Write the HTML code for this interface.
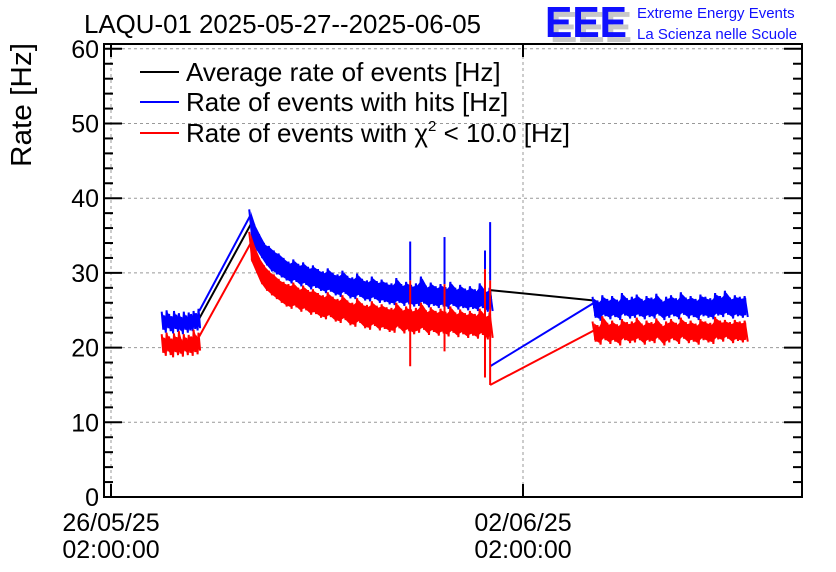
<!DOCTYPE html>
<html><head><meta charset="utf-8"><style>
body{margin:0;background:#fff}
svg{display:block;font-family:"Liberation Sans",sans-serif}
</style></head><body>
<svg id="chart" width="836" height="572" viewBox="0 0 836 572" xmlns="http://www.w3.org/2000/svg">
<text x="84" y="33" font-size="26" textLength="397" lengthAdjust="spacingAndGlyphs">LAQU-01 2025-05-27--2025-06-05</text>
<g>
<text x="550" y="42" font-size="44" fill="#c8c8c8" font-weight="bold" textLength="82" lengthAdjust="spacingAndGlyphs">EEE</text>
<text x="545" y="37" font-size="44" fill="#1010ff" font-weight="bold" textLength="82" lengthAdjust="spacingAndGlyphs">EEE</text>
<text x="637" y="18" font-size="15" fill="#1010ff">Extreme Energy Events</text>
<text x="637" y="39" font-size="15" fill="#1010ff">La Scienza nelle Scuole</text>
</g>
<text transform="translate(31,105) rotate(-90)" text-anchor="middle" font-size="29" textLength="124" lengthAdjust="spacingAndGlyphs">Rate [Hz]</text>
<g id="grid"></g>
<g id="series"></g>
<g id="axes"></g>
<g>
<g><line x1="140" y1="72" x2="179" y2="72" stroke="#000" stroke-width="2"/><text x="186" y="81" font-size="26">Average rate of events [Hz]</text></g>
<g><line x1="140" y1="102" x2="179" y2="102" stroke="#0000ff" stroke-width="2"/><text x="186" y="111" font-size="26">Rate of events with hits [Hz]</text></g>
<g><line x1="140" y1="133" x2="179" y2="133" stroke="#ff0000" stroke-width="2"/><text x="186" y="142" font-size="26">Rate of events with χ<tspan font-size="15" dy="-11">2</tspan><tspan dy="11"> &lt; 10.0 [Hz]</tspan></text></g>
</g>
</svg>
<script>
// hours since 26/05/25 02:00:00
const seg1Hours=[21,22,23,24,25,26,27,28,29,30,31,32,33,34,35,36];
const seg1BlueHi=[24.8,24.3,25.0,24.5,24.2,24.9,24.4,24.6,24.1,24.8,24.3,24.7,24.5,24.9,24.6,25.2];
const seg1BlueLo=[22.4,22.0,22.6,22.2,21.9,22.5,22.1,22.3,21.8,22.4,22.0,22.3,22.2,22.5,22.3,22.6];
const seg1RedHi=[21.8,21.3,22.0,21.5,21.2,21.9,21.4,22.2,21.1,21.8,21.3,21.7,21.5,22.4,21.6,22.0];
const seg1RedLo=[19.3,18.9,19.5,19.0,18.7,19.4,19.0,19.2,18.8,19.5,19.0,19.3,18.9,19.4,19.1,19.6];
const seg2Hours=[57,59,61,63,65,67,69,71,73,75,77,79,81,83,85,87,89,91,93,95,97,99,101,103,105,107,109,111,113,115,117,119,121,123,125,127,129,131,133,135,137,139,141,143,145,147,149,151,153,155];
const seg2BlueHi=[38.5,36.5,35.2,34.0,33.6,33.0,32.6,32.0,31.5,31.8,31.2,31.4,30.8,31.0,30.5,30.2,30.6,30.0,29.8,30.3,29.6,29.4,29.9,29.2,29.0,29.5,28.9,29.1,28.7,28.6,29.3,28.5,28.8,28.4,28.6,29.5,28.3,28.7,28.2,28.5,28.1,28.8,28.0,28.4,27.9,28.2,27.8,28.6,27.7,28.0];
const seg2BlueLo=[34.5,33.0,32.0,31.0,30.2,29.8,29.4,29.0,28.6,28.8,28.2,28.4,27.8,28.0,27.6,27.3,27.5,27.0,26.8,27.2,26.6,26.5,26.8,26.3,26.2,26.5,26.0,26.1,25.8,25.7,26.0,25.6,25.8,25.5,25.6,25.9,25.4,25.6,25.3,25.5,25.2,25.6,25.1,25.3,25.0,25.2,24.9,25.3,24.8,24.9];
const seg2RedHi=[35.5,33.5,32.0,31.0,30.3,29.8,29.2,28.8,28.5,28.7,28.0,28.3,27.7,27.8,27.3,27.0,27.4,26.8,26.5,27.0,26.3,26.0,26.6,25.9,25.7,26.2,25.6,25.8,25.4,25.3,26.0,25.2,25.5,25.1,25.3,26.0,25.0,25.4,24.9,25.2,24.8,25.5,24.7,25.1,24.6,24.9,24.5,25.2,24.4,24.7];
const seg2RedLo=[31.5,30.0,28.5,27.6,27.0,26.5,26.0,25.5,25.2,25.4,24.8,25.0,24.4,24.5,24.0,23.8,24.1,23.5,23.3,23.7,23.0,22.8,23.3,22.6,22.4,22.9,22.3,22.5,22.1,22.0,22.6,21.9,22.2,21.8,22.0,22.4,21.7,22.1,21.6,21.9,21.5,22.0,21.4,21.8,21.3,21.6,21.2,21.7,21.1,21.3];
const seg3Hours=[197,199,201,203,205,207,209,211,213,215,217,219,221,223,225,227,229,231,233,235,237,239,241,243,245,247,249,251,253,255,257,259];
const seg3BlueHi=[26.8,26.3,27.0,26.5,26.9,26.4,27.3,26.6,26.8,27.1,26.5,26.9,26.7,27.2,26.4,26.8,27.0,26.6,27.4,26.7,26.9,26.5,27.1,26.8,26.6,27.3,26.9,27.6,26.7,27.0,26.8,26.9];
const seg3BlueLo=[24.0,23.6,24.2,23.8,24.1,23.7,24.3,23.9,24.0,24.2,23.8,24.1,23.9,24.3,23.7,24.0,24.2,23.8,24.4,23.9,24.1,23.7,24.2,24.0,23.8,24.3,24.1,24.4,23.9,24.2,24.0,24.1];
const seg3RedHi=[23.5,23.0,24.2,23.3,23.6,23.1,23.8,23.4,23.5,24.0,23.2,23.6,23.4,23.9,23.1,23.5,23.8,23.3,24.0,23.4,23.6,23.2,23.8,23.5,23.3,24.1,23.6,23.7,23.4,23.7,23.5,23.6];
const seg3RedLo=[20.8,20.4,21.0,20.5,20.8,20.3,21.0,20.6,20.7,21.0,20.4,20.8,20.6,21.1,20.3,20.7,21.0,20.5,21.2,20.6,20.8,20.4,21.0,20.7,20.5,21.1,20.8,21.2,20.6,20.9,20.7,20.8];
const spikeHours=[122,136,152.5,154.6];
const spikeBlueHi=[34.2,34.8,33.0,36.8];
const spikeRedHi=[29.0,28.5,30.5,29.0];
const spikeRedLo=[17.5,19.5,16.0,15.0];
const blueGapStart=[154.6,17.5], blueGapEnd=[197,26.0];
const redGapStart=[154.6,15.0], redGapEnd=[197,22.3];
const avgGapStart=[154.6,27.7], avgGapEnd=[197,26.3];
const yTicks=[0,10,20,30,40,50,60];
const xTickHours=[0,168];
const xTickLabels=[["26/05/25","02:00:00"],["02/06/25","02:00:00"]];

const L=104,R=802,T=44,B=497;
const xs=h=>111+h*412/168;
const ys=v=>497-v*7.47;
const NS="http://www.w3.org/2000/svg";
function mk(parent,tag,attrs){const e=document.createElementNS(NS,tag);for(const k in attrs)e.setAttribute(k,attrs[k]);parent.appendChild(e);return e;}
const grid=document.getElementById('grid'),ser=document.getElementById('series'),ax=document.getElementById('axes');

yTicks.forEach(v=>{if(v>0){const g=mk(grid,'line',{x1:L,x2:R,y1:ys(v),y2:ys(v),stroke:'#999','stroke-dasharray':'3,3','stroke-width':1});

}});
xTickHours.forEach(h=>{const g=mk(grid,'line',{x1:xs(h),x2:xs(h),y1:T,y2:B,stroke:'#999','stroke-dasharray':'3,3','stroke-width':1});

});

function pts(a){return a.map(p=>p[0].toFixed(1)+','+p[1].toFixed(1)).join(' ');}
function band(hours,hi,lo,color,name,dx){
  const poly=[];hours.forEach((h,i)=>poly.push([xs(h),ys(hi[i]-0.25)]));
  for(let i=hours.length-1;i>=0;i--)poly.push([xs(hours[i]),ys(lo[i]+0.25)]);
  const p=mk(ser,'polygon',{points:pts(poly),fill:color});
  
  
  const z=[];hours.forEach((h,i)=>{z.push([xs(h)-dx,ys(hi[i])]);z.push([xs(h)+dx,ys(lo[i])]);});
  const l=mk(ser,'polyline',{points:pts(z),fill:'none',stroke:color,'stroke-width':2});
  
  
}
function mid(hi,lo,i){return (hi[i]+lo[i])/2;}
const avg=[];
seg1Hours.forEach((h,i)=>avg.push([xs(h),ys(mid(seg1BlueHi,seg1BlueLo,i))]));
seg2Hours.forEach((h,i)=>avg.push([xs(h),ys(mid(seg2BlueHi,seg2BlueLo,i))]));
avg.push([xs(avgGapStart[0]),ys(avgGapStart[1])]);avg.push([xs(avgGapEnd[0]),ys(avgGapEnd[1])]);
seg3Hours.forEach((h,i)=>avg.push([xs(h),ys(mid(seg3BlueHi,seg3BlueLo,i))]));
const av=mk(ser,'polyline',{points:pts(avg),fill:'none',stroke:'#000','stroke-width':2});


function seg(a,b,color,name){const l=mk(ser,'line',{x1:xs(a[0]),y1:ys(a[1]),x2:xs(b[0]),y2:ys(b[1]),stroke:color,'stroke-width':2});

}
const n1=seg1Hours.length-1;
seg([seg1Hours[n1],seg1BlueHi[n1]-0.3],[seg2Hours[0],seg2BlueHi[0]-0.7],'#0000ff','hits-ramp');
seg([seg1Hours[n1],seg1RedHi[n1]-0.5],[seg2Hours[0],seg2RedHi[0]-1.5],'#ff0000','chi2-ramp');
seg(blueGapStart,blueGapEnd,'#0000ff','hits-gap-line');
seg(redGapStart,redGapEnd,'#ff0000','chi2-gap-line');
band(seg1Hours,seg1BlueHi,seg1BlueLo,'#0000ff','hits-seg1',0.8);
band(seg2Hours,seg2BlueHi,seg2BlueLo,'#0000ff','hits-seg2',1.6);
band(seg3Hours,seg3BlueHi,seg3BlueLo,'#0000ff','hits-seg3',1.6);
band(seg1Hours,seg1RedHi,seg1RedLo,'#ff0000','chi2-seg1',0.8);
band(seg2Hours,seg2RedHi,seg2RedLo,'#ff0000','chi2-seg2',1.6);
band(seg3Hours,seg3RedHi,seg3RedLo,'#ff0000','chi2-seg3',1.6);
spikeHours.forEach((h,i)=>{
  const b=mk(ser,'line',{x1:xs(h),x2:xs(h),y1:ys(spikeBlueHi[i]),y2:ys(spikeRedHi[i]),stroke:'#0000ff','stroke-width':2});
  
  
  const r=mk(ser,'line',{x1:xs(h),x2:xs(h),y1:ys(spikeRedHi[i]),y2:ys(spikeRedLo[i]),stroke:'#ff0000','stroke-width':2});
  
  
});
const fr=mk(ax,'rect',{x:L,y:T,width:R-L,height:B-T,fill:'none',stroke:'#000','stroke-width':2});


for(let v=0;v<=60;v+=2){const major=v%10===0,len=major?18:9;
  mk(ax,'line',{x1:L,x2:L+len,y1:ys(v),y2:ys(v),stroke:'#000','stroke-width':2});
  mk(ax,'line',{x1:R-len,x2:R,y1:ys(v),y2:ys(v),stroke:'#000','stroke-width':2});}
yTicks.forEach(v=>{const t=mk(ax,'text',{x:L-5,y:ys(v)+9,'text-anchor':'end','font-size':25});t.textContent=v;

});
xTickHours.forEach((h,i)=>{
  mk(ax,'line',{x1:xs(h),x2:xs(h),y1:B,y2:B-13,stroke:'#000','stroke-width':2});
  mk(ax,'line',{x1:xs(h),x2:xs(h),y1:T,y2:T+13,stroke:'#000','stroke-width':2});
  xTickLabels[i].forEach((s,k)=>{const t=mk(ax,'text',{x:xs(h),y:531+k*27,'text-anchor':'middle','font-size':25});t.textContent=s;
  
  });
});
</script>
</body></html>
